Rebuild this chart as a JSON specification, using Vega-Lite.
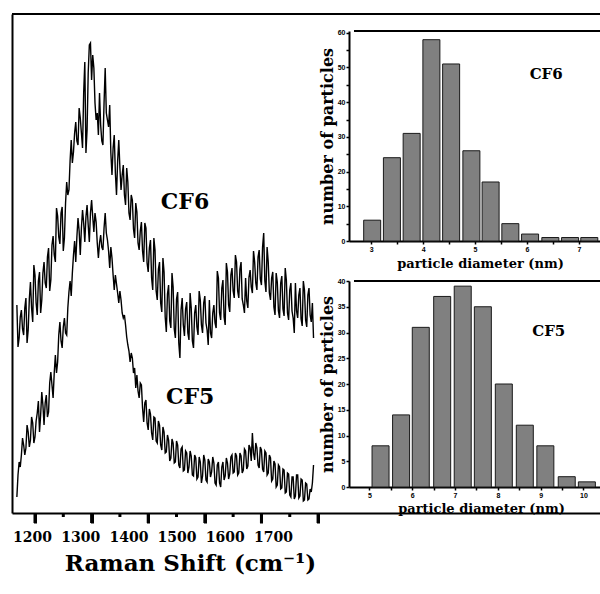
{
 "$schema": "https://vega.github.io/schema/vega-lite/v6.json",
 "autosize": "none",
 "width": 588,
 "height": 499,
 "padding": {"left": 12, "top": 14, "right": 0, "bottom": 81},
 "background": "white",
 "config": {
  "view": {"stroke": null},
  "axis": {"grid": false, "domainColor": "#000", "tickColor": "#000", "labelColor": "#000", "titleColor": "#000"}
 },
 "datasets": {
  "spec": [
   {"w":1168,"CF6":208,"CF5":16},{"w":1170,"CF6":166,"CF5":38},{"w":1172,"CF6":175,"CF5":51},{"w":1174,"CF6":196,"CF5":46},
   {"w":1176,"CF6":203,"CF5":58},{"w":1178,"CF6":184,"CF5":75},{"w":1180,"CF6":178,"CF5":68},{"w":1182,"CF6":205,"CF5":58},
   {"w":1184,"CF6":215,"CF5":65},{"w":1186,"CF6":170,"CF5":88},{"w":1188,"CF6":183,"CF5":81},{"w":1190,"CF6":214,"CF5":66},
   {"w":1192,"CF6":231,"CF5":73},{"w":1194,"CF6":205,"CF5":96},{"w":1196,"CF6":191,"CF5":90},{"w":1198,"CF6":248,"CF5":70},
   {"w":1200,"CF6":238,"CF5":76},{"w":1202,"CF6":210,"CF5":92},{"w":1204,"CF6":198,"CF5":100},{"w":1206,"CF6":232,"CF5":112},
   {"w":1208,"CF6":241,"CF5":81},{"w":1210,"CF6":200,"CF5":98},{"w":1212,"CF6":213,"CF5":121},{"w":1214,"CF6":240,"CF5":108},
   {"w":1216,"CF6":251,"CF5":88},{"w":1218,"CF6":230,"CF5":110},{"w":1220,"CF6":225,"CF5":118},{"w":1222,"CF6":256,"CF5":96},
   {"w":1224,"CF6":265,"CF5":101},{"w":1226,"CF6":222,"CF5":130},{"w":1228,"CF6":233,"CF5":141},{"w":1230,"CF6":268,"CF5":128},
   {"w":1232,"CF6":277,"CF5":115},{"w":1234,"CF6":258,"CF5":140},{"w":1236,"CF6":251,"CF5":158},{"w":1238,"CF6":305,"CF5":140},
   {"w":1240,"CF6":297,"CF5":151},{"w":1242,"CF6":276,"CF5":178},{"w":1244,"CF6":269,"CF5":191},{"w":1246,"CF6":300,"CF5":172},
   {"w":1248,"CF6":306,"CF5":165},{"w":1250,"CF6":262,"CF5":186},{"w":1252,"CF6":275,"CF5":195},{"w":1254,"CF6":310,"CF5":180},
   {"w":1256,"CF6":331,"CF5":178},{"w":1258,"CF6":318,"CF5":205},{"w":1260,"CF6":323,"CF5":221},{"w":1262,"CF6":352,"CF5":232},
   {"w":1264,"CF6":373,"CF5":217},{"w":1266,"CF6":350,"CF5":240},{"w":1268,"CF6":361,"CF5":258},{"w":1270,"CF6":380,"CF5":272},
   {"w":1272,"CF6":391,"CF5":251},{"w":1274,"CF6":372,"CF5":276},{"w":1276,"CF6":368,"CF5":295},{"w":1278,"CF6":405,"CF5":282},
   {"w":1280,"CF6":395,"CF5":258},{"w":1282,"CF6":380,"CF5":285},{"w":1284,"CF6":365,"CF5":303},{"w":1286,"CF6":420,"CF5":290},
   {"w":1288,"CF6":451,"CF5":271},{"w":1290,"CF6":360,"CF5":296},{"w":1292,"CF6":383,"CF5":308},{"w":1294,"CF6":440,"CF5":288},
   {"w":1296,"CF6":468,"CF5":271},{"w":1298,"CF6":470,"CF5":300},{"w":1300,"CF6":433,"CF5":313},{"w":1302,"CF6":458,"CF5":296},
   {"w":1304,"CF6":445,"CF5":281},{"w":1306,"CF6":410,"CF5":300},{"w":1308,"CF6":393,"CF5":291},{"w":1310,"CF6":400,"CF5":270},
   {"w":1312,"CF6":378,"CF5":255},{"w":1314,"CF6":420,"CF5":270},{"w":1316,"CF6":388,"CF5":278},{"w":1318,"CF6":372,"CF5":266},
   {"w":1320,"CF6":368,"CF5":263},{"w":1322,"CF6":410,"CF5":285},{"w":1324,"CF6":445,"CF5":300},{"w":1326,"CF6":400,"CF5":280},
   {"w":1328,"CF6":393,"CF5":273},{"w":1330,"CF6":386,"CF5":262},{"w":1332,"CF6":408,"CF5":245},{"w":1334,"CF6":360,"CF5":266},
   {"w":1336,"CF6":338,"CF5":255},{"w":1338,"CF6":365,"CF5":238},{"w":1340,"CF6":378,"CF5":223},{"w":1342,"CF6":340,"CF5":238},
   {"w":1344,"CF6":318,"CF5":229},{"w":1346,"CF6":352,"CF5":220},{"w":1348,"CF6":373,"CF5":210},{"w":1350,"CF6":345,"CF5":222},
   {"w":1352,"CF6":323,"CF5":213},{"w":1354,"CF6":338,"CF5":200},{"w":1356,"CF6":348,"CF5":195},{"w":1358,"CF6":318,"CF5":198},
   {"w":1360,"CF6":308,"CF5":188},{"w":1362,"CF6":345,"CF5":176},{"w":1364,"CF6":331,"CF5":168},{"w":1366,"CF6":300,"CF5":162},
   {"w":1368,"CF6":293,"CF5":151},{"w":1370,"CF6":318,"CF5":160},{"w":1372,"CF6":313,"CF5":155},{"w":1374,"CF6":284,"CF5":140},
   {"w":1376,"CF6":275,"CF5":145},{"w":1378,"CF6":310,"CF5":125},{"w":1380,"CF6":301,"CF5":138},{"w":1382,"CF6":270,"CF5":122},
   {"w":1384,"CF6":263,"CF5":115},{"w":1386,"CF6":282,"CF5":130},{"w":1388,"CF6":291,"CF5":128},{"w":1390,"CF6":262,"CF5":105},
   {"w":1392,"CF6":251,"CF5":91},{"w":1394,"CF6":290,"CF5":110},{"w":1396,"CF6":285,"CF5":113},{"w":1398,"CF6":250,"CF5":90},
   {"w":1400,"CF6":241,"CF5":83},{"w":1402,"CF6":265,"CF5":104},{"w":1404,"CF6":273,"CF5":99},{"w":1406,"CF6":235,"CF5":80},
   {"w":1408,"CF6":223,"CF5":73},{"w":1410,"CF6":275,"CF5":96},{"w":1412,"CF6":263,"CF5":95},{"w":1414,"CF6":222,"CF5":72},
   {"w":1416,"CF6":213,"CF5":70},{"w":1418,"CF6":244,"CF5":92},{"w":1420,"CF6":251,"CF5":88},{"w":1422,"CF6":210,"CF5":68},
   {"w":1424,"CF6":201,"CF5":63},{"w":1426,"CF6":255,"CF5":86},{"w":1428,"CF6":241,"CF5":81},{"w":1430,"CF6":196,"CF5":60},
   {"w":1432,"CF6":181,"CF5":61},{"w":1434,"CF6":219,"CF5":78},{"w":1436,"CF6":228,"CF5":73},{"w":1438,"CF6":192,"CF5":52},
   {"w":1440,"CF6":185,"CF5":55},{"w":1442,"CF6":240,"CF5":74},{"w":1444,"CF6":226,"CF5":70},{"w":1446,"CF6":184,"CF5":50},
   {"w":1448,"CF6":175,"CF5":51},{"w":1450,"CF6":214,"CF5":72},{"w":1452,"CF6":221,"CF5":68},{"w":1454,"CF6":170,"CF5":48},
   {"w":1456,"CF6":155,"CF5":45},{"w":1458,"CF6":203,"CF5":64},{"w":1460,"CF6":215,"CF5":66},{"w":1462,"CF6":188,"CF5":42},
   {"w":1464,"CF6":177,"CF5":43},{"w":1466,"CF6":204,"CF5":62},{"w":1468,"CF6":211,"CF5":60},{"w":1470,"CF6":180,"CF5":40},
   {"w":1472,"CF6":173,"CF5":46},{"w":1474,"CF6":220,"CF5":62},{"w":1476,"CF6":205,"CF5":57},{"w":1478,"CF6":172,"CF5":38},
   {"w":1480,"CF6":165,"CF5":37},{"w":1482,"CF6":200,"CF5":58},{"w":1484,"CF6":208,"CF5":55},{"w":1486,"CF6":186,"CF5":34},
   {"w":1488,"CF6":178,"CF5":36},{"w":1490,"CF6":222,"CF5":56},{"w":1492,"CF6":213,"CF5":51},{"w":1494,"CF6":188,"CF5":30},
   {"w":1496,"CF6":180,"CF5":37},{"w":1498,"CF6":210,"CF5":58},{"w":1500,"CF6":217,"CF5":53},{"w":1502,"CF6":190,"CF5":33},
   {"w":1504,"CF6":183,"CF5":31},{"w":1506,"CF6":168,"CF5":54},{"w":1508,"CF6":213,"CF5":51},{"w":1510,"CF6":180,"CF5":36},
   {"w":1512,"CF6":175,"CF5":41},{"w":1514,"CF6":200,"CF5":56},{"w":1516,"CF6":208,"CF5":50},{"w":1518,"CF6":190,"CF5":30},
   {"w":1520,"CF6":185,"CF5":28},{"w":1522,"CF6":242,"CF5":48},{"w":1524,"CF6":235,"CF5":51},{"w":1526,"CF6":200,"CF5":30},
   {"w":1528,"CF6":193,"CF5":26},{"w":1530,"CF6":225,"CF5":46},{"w":1532,"CF6":233,"CF5":51},{"w":1534,"CF6":196,"CF5":33},
   {"w":1536,"CF6":188,"CF5":37},{"w":1538,"CF6":250,"CF5":55},{"w":1540,"CF6":241,"CF5":50},{"w":1542,"CF6":208,"CF5":34},
   {"w":1544,"CF6":201,"CF5":39},{"w":1546,"CF6":238,"CF5":56},{"w":1548,"CF6":245,"CF5":58},{"w":1550,"CF6":222,"CF5":40},
   {"w":1552,"CF6":215,"CF5":41},{"w":1554,"CF6":258,"CF5":60},{"w":1556,"CF6":251,"CF5":57},{"w":1558,"CF6":222,"CF5":38},
   {"w":1560,"CF6":215,"CF5":40},{"w":1562,"CF6":244,"CF5":60},{"w":1564,"CF6":251,"CF5":57},{"w":1566,"CF6":214,"CF5":40},
   {"w":1568,"CF6":208,"CF5":43},{"w":1570,"CF6":200,"CF5":64},{"w":1572,"CF6":235,"CF5":62},{"w":1574,"CF6":212,"CF5":44},
   {"w":1576,"CF6":205,"CF5":47},{"w":1578,"CF6":236,"CF5":68},{"w":1580,"CF6":243,"CF5":65},{"w":1582,"CF6":226,"CF5":52},
   {"w":1584,"CF6":220,"CF5":80},{"w":1586,"CF6":262,"CF5":60},{"w":1588,"CF6":251,"CF5":53},{"w":1590,"CF6":230,"CF5":70},
   {"w":1592,"CF6":223,"CF5":65},{"w":1594,"CF6":256,"CF5":48},{"w":1596,"CF6":263,"CF5":45},{"w":1598,"CF6":234,"CF5":66},
   {"w":1600,"CF6":228,"CF5":63},{"w":1602,"CF6":266,"CF5":44},{"w":1604,"CF6":280,"CF5":41},{"w":1606,"CF6":232,"CF5":62},
   {"w":1608,"CF6":221,"CF5":60},{"w":1610,"CF6":266,"CF5":38},{"w":1612,"CF6":251,"CF5":40},{"w":1614,"CF6":220,"CF5":58},
   {"w":1616,"CF6":213,"CF5":55},{"w":1618,"CF6":235,"CF5":32},{"w":1620,"CF6":241,"CF5":34},{"w":1622,"CF6":206,"CF5":52},
   {"w":1624,"CF6":198,"CF5":49},{"w":1626,"CF6":240,"CF5":26},{"w":1628,"CF6":231,"CF5":28},{"w":1630,"CF6":202,"CF5":48},
   {"w":1632,"CF6":195,"CF5":46},{"w":1634,"CF6":230,"CF5":24},{"w":1636,"CF6":237,"CF5":25},{"w":1638,"CF6":204,"CF5":44},
   {"w":1640,"CF6":197,"CF5":43},{"w":1642,"CF6":245,"CF5":20},{"w":1644,"CF6":233,"CF5":21},{"w":1646,"CF6":200,"CF5":40},
   {"w":1648,"CF6":193,"CF5":39},{"w":1650,"CF6":223,"CF5":18},{"w":1652,"CF6":230,"CF5":16},{"w":1654,"CF6":202,"CF5":36},
   {"w":1656,"CF6":195,"CF5":36},{"w":1658,"CF6":180,"CF5":14},{"w":1660,"CF6":230,"CF5":17},{"w":1662,"CF6":202,"CF5":38},
   {"w":1664,"CF6":195,"CF5":38},{"w":1666,"CF6":218,"CF5":15},{"w":1668,"CF6":225,"CF5":17},{"w":1670,"CF6":194,"CF5":34},
   {"w":1672,"CF6":187,"CF5":33},{"w":1674,"CF6":232,"CF5":12},{"w":1676,"CF6":223,"CF5":13},{"w":1678,"CF6":193,"CF5":30},
   {"w":1680,"CF6":186,"CF5":29},{"w":1682,"CF6":218,"CF5":13},{"w":1684,"CF6":225,"CF5":14},{"w":1686,"CF6":198,"CF5":24},
   {"w":1688,"CF6":191,"CF5":21},{"w":1690,"CF6":210,"CF5":30},{"w":1692,"CF6":175,"CF5":48}
  ],
  "ticks": [
   {"t":1200,"kind":"major"},{"t":1250,"kind":"minor"},{"t":1300,"kind":"major"},{"t":1350,"kind":"minor"},
   {"t":1400,"kind":"major"},{"t":1450,"kind":"minor"},{"t":1500,"kind":"major"},{"t":1550,"kind":"minor"},
   {"t":1600,"kind":"major"},{"t":1650,"kind":"minor"},{"t":1700,"kind":"major"}
  ],
  "h6": [
   {"d":3.02,"n":6},{"d":3.40,"n":24},{"d":3.78,"n":31},{"d":4.16,"n":58},{"d":4.54,"n":51},{"d":4.93,"n":26},
   {"d":5.30,"n":17},{"d":5.68,"n":5},{"d":6.06,"n":2},{"d":6.45,"n":1},{"d":6.83,"n":1},{"d":7.20,"n":1}
  ],
  "h5": [
   {"d":5.26,"n":8},{"d":5.74,"n":14},{"d":6.20,"n":31},{"d":6.70,"n":37},{"d":7.18,"n":39},{"d":7.65,"n":35},
   {"d":8.14,"n":20},{"d":8.63,"n":12},{"d":9.11,"n":8},{"d":9.61,"n":2},{"d":10.08,"n":1}
  ]
 },
 "layer": [
  {
   "data": {"name": "spec"},
   "transform": [{"fold": ["CF6", "CF5"], "as": ["sample", "intensity"]}],
   "layer": [
    {
     "mark": {"type": "line", "color": "black", "strokeWidth": 1.4},
     "encoding": {
      "x": {"field": "w", "type": "quantitative",
            "scale": {"domain": [1159.4, 2198], "nice": false, "zero": false},
            "axis": {"orient": "bottom", "values": [1200,1300,1400,1500,1600,1700],
                     "labels": false, "title": null, "ticks": true, "tickSize": 10, "tickWidth": 3,
                     "tickColor": "black", "tickOpacity": 1, "domainWidth": 2}},
      "y": {"field": "intensity", "type": "quantitative",
            "scale": {"domain": [0, 499], "nice": false, "zero": false},
            "axis": {"orient": "left", "ticks": false, "labels": false, "title": null, "domainWidth": 2}},
      "detail": {"field": "sample"}
     }
    },
    {
     "data": {"name": "ticks"},
     "transform": [{"filter": "datum.kind === 'major'"}],
     "mark": {"type": "rule", "color": "black", "strokeWidth": 3},
     "encoding": {"x": {"field": "t", "type": "quantitative"}, "y": {"datum": 0, "type": "quantitative"}, "y2": {"datum": -10}}
    },
    {
     "data": {"name": "ticks"},
     "transform": [{"filter": "datum.kind === 'minor'"}],
     "mark": {"type": "rule", "color": "black", "strokeWidth": 3},
     "encoding": {"x": {"field": "t", "type": "quantitative"}, "y": {"datum": 0, "type": "quantitative"}, "y2": {"datum": -4}}
    },
    {
     "data": {"values": [{}]},
     "mark": {"type": "rule", "color": "black", "strokeWidth": 2},
     "encoding": {"x": {"datum": 1159.4, "type": "quantitative"}, "x2": {"datum": 2300}, "y": {"datum": 499, "type": "quantitative"}}
    },
    {
     "data": {"values": [{}]},
     "mark": {"type": "text", "text": "CF6", "font": "DejaVu Serif", "fontSize": 22, "fontWeight": "bold", "color": "black", "baseline": "middle", "align": "center"},
     "encoding": {"x": {"datum": 1465, "type": "quantitative"}, "y": {"datum": 311, "type": "quantitative"}}
    },
    {
     "data": {"values": [{}]},
     "mark": {"type": "text", "text": "CF5", "font": "DejaVu Serif", "fontSize": 22, "fontWeight": "bold", "color": "black", "baseline": "middle", "align": "center"},
     "encoding": {"x": {"datum": 1474, "type": "quantitative"}, "y": {"datum": 116, "type": "quantitative"}}
    }
   ]
  },
  {
   "data": {"values": [{}]},
   "mark": {"type": "rule", "opacity": 0},
   "encoding": {
    "x": {"datum": 1200, "type": "quantitative",
          "scale": {"domain": [1200, 1700], "range": [20, 261], "nice": false, "zero": false},
          "axis": {"orient": "bottom", "values": [1200,1300,1400,1500,1600,1700], "format": "d",
                   "ticks": false, "tickSize": 0, "domain": false,
                   "labelFont": "DejaVu Serif", "labelFontSize": 14, "labelFontWeight": "bold",
                   "labelPadding": 17, "labelFlush": false, "labelOverlap": false,
                   "title": "Raman Shift (cm⁻¹)", "titleFont": "DejaVu Serif", "titleFontSize": 23,
                   "titleFontWeight": "bold", "titleX": 178, "titleY": 57, "titleBaseline": "alphabetic", "titleAlign": "center"}}
   }
  },
  {
   "data": {"name": "h6"},
   "layer": [
    {
     "mark": {"type": "bar", "orient": "vertical", "size": 17, "fill": "#808080", "stroke": "#1a1a1a", "strokeWidth": 1},
     "encoding": {
      "x": {"field": "d", "type": "quantitative",
            "scale": {"domain": [2.67, 7.31], "range": [337, 588], "nice": false, "zero": false},
            "axis": {"orient": "bottom", "offset": -272, "values": [3,3.5,4,4.5,5,5.5,6,6.5,7],
                     "labelExpr": "datum.value % 1 === 0 ? format(datum.value, 'd') : ''",
                     "labelFont": "Liberation Sans", "labelFontSize": 7, "labelFontWeight": "bold", "labelPadding": 1,
                     "labelFlush": false, "labelOverlap": false,
                     "ticks": true, "tickSize": 3, "tickWidth": 1.5, "tickColor": "black", "domainWidth": 2,
                     "title": "particle diameter (nm)", "titleFont": "DejaVu Serif", "titleFontSize": 13,
                     "titleFontWeight": "bold", "titleX": 468, "titleY": 26, "titleBaseline": "alphabetic", "titleAlign": "center"}},
      "y": {"field": "n", "type": "quantitative",
            "scale": {"domain": [0, 60.5], "range": [227, 17], "nice": false, "zero": false},
            "axis": {"orient": "left", "offset": -337, "values": [0,5,10,15,20,25,30,35,40,45,50,55,60],
                     "labelExpr": "datum.value % 10 === 0 ? datum.label : ''",
                     "labelFont": "Liberation Sans", "labelFontSize": 7, "labelFontWeight": "bold", "labelPadding": 1,
                     "labelFlush": false, "labelOverlap": false,
                     "ticks": true, "tickSize": 3, "tickWidth": 1.5, "tickColor": "black", "domainWidth": 2,
                     "title": "number of particles", "titleFont": "DejaVu Serif", "titleFontSize": 16,
                     "titleFontWeight": "bold", "titleX": -14, "titleBaseline": "bottom"}}
     }
    },
    {
     "data": {"values": [{}]},
     "mark": {"type": "rule", "color": "black", "strokeWidth": 2},
     "encoding": {
      "x": {"datum": 2.67, "type": "quantitative", "scale": {"domain": [2.67, 7.31], "range": [337, 588], "nice": false, "zero": false}},
      "x2": {"datum": 8},
      "y": {"datum": 60.5, "type": "quantitative", "scale": {"domain": [0, 60.5], "range": [227, 17], "nice": false, "zero": false}}
     }
    },
    {
     "data": {"values": [{}]},
     "mark": {"type": "text", "text": "CF6", "font": "DejaVu Serif", "fontSize": 15, "fontWeight": "bold", "color": "black", "baseline": "middle", "align": "center"},
     "encoding": {"x": {"datum": 6.37, "type": "quantitative"}, "y": {"datum": 48, "type": "quantitative"}}
    }
   ]
  },
  {
   "data": {"name": "h5"},
   "layer": [
    {
     "mark": {"type": "bar", "orient": "vertical", "size": 17, "fill": "#808080", "stroke": "#1a1a1a", "strokeWidth": 1},
     "encoding": {
      "x": {"field": "d", "type": "quantitative",
            "scale": {"domain": [4.64, 10.27], "range": [337, 588], "nice": false, "zero": false},
            "axis": {"orient": "bottom", "offset": -26, "values": [5,5.5,6,6.5,7,7.5,8,8.5,9,9.5,10],
                     "labelExpr": "datum.value % 1 === 0 ? format(datum.value, 'd') : ''",
                     "labelFont": "Liberation Sans", "labelFontSize": 7, "labelFontWeight": "bold", "labelPadding": 1,
                     "labelFlush": false, "labelOverlap": false,
                     "ticks": true, "tickSize": 3, "tickWidth": 1.5, "tickColor": "black", "domainWidth": 2,
                     "title": "particle diameter (nm)", "titleFont": "DejaVu Serif", "titleFontSize": 13,
                     "titleFontWeight": "bold", "titleX": 469, "titleY": 25, "titleBaseline": "alphabetic", "titleAlign": "center"}},
      "y": {"field": "n", "type": "quantitative",
            "scale": {"domain": [0, 40], "range": [473, 267], "nice": false, "zero": false},
            "axis": {"orient": "left", "offset": -337, "values": [0,2.5,5,7.5,10,12.5,15,17.5,20,22.5,25,27.5,30,32.5,35,37.5,40],
                     "labelExpr": "datum.value % 5 === 0 ? format(datum.value, 'd') : ''",
                     "labelFont": "Liberation Sans", "labelFontSize": 7, "labelFontWeight": "bold", "labelPadding": 1,
                     "labelFlush": false, "labelOverlap": false,
                     "ticks": true, "tickSize": 3, "tickWidth": 1.5, "tickColor": "black", "domainWidth": 2,
                     "title": "number of particles", "titleFont": "DejaVu Serif", "titleFontSize": 16,
                     "titleFontWeight": "bold", "titleX": -14, "titleBaseline": "bottom"}}
     }
    },
    {
     "data": {"values": [{}]},
     "mark": {"type": "rule", "color": "black", "strokeWidth": 2},
     "encoding": {
      "x": {"datum": 4.64, "type": "quantitative", "scale": {"domain": [4.64, 10.27], "range": [337, 588], "nice": false, "zero": false}},
      "x2": {"datum": 11},
      "y": {"datum": 40, "type": "quantitative", "scale": {"domain": [0, 40], "range": [473, 267], "nice": false, "zero": false}}
     }
    },
    {
     "data": {"values": [{}]},
     "mark": {"type": "text", "text": "CF5", "font": "DejaVu Serif", "fontSize": 15, "fontWeight": "bold", "color": "black", "baseline": "middle", "align": "center"},
     "encoding": {"x": {"datum": 9.19, "type": "quantitative"}, "y": {"datum": 30.3, "type": "quantitative"}}
    }
   ]
  }
 ],
 "resolve": {"scale": {"x": "independent", "y": "independent"}, "axis": {"x": "independent", "y": "independent"}}
}
